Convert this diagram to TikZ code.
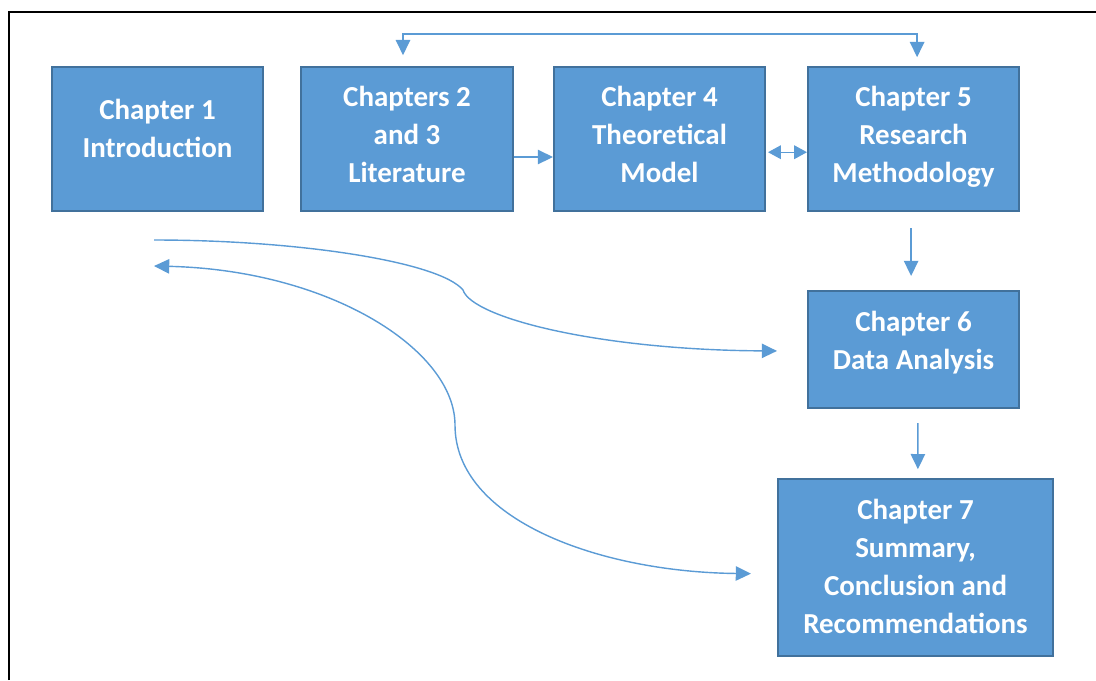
\documentclass[tikz,border=0pt]{standalone}
\usepackage{fontspec}
\setmainfont{Carlito}
\usepackage{xcolor}
\usepackage{tikz}
\usetikzlibrary{shapes,arrows.meta}
\definecolor{boxblue}{HTML}{5B9BD5}
\definecolor{boxedge}{HTML}{41719C}
\tikzstyle{block} = [rectangle, draw=boxedge, line width=1.4pt, fill=boxblue, text=white, text centered, align=center, font=\bfseries\fontsize{20.6pt}{27pt}\selectfont, minimum width=5.275cm, minimum height=3.6cm, inner sep=0pt, text depth=0.25cm]
\tikzstyle{line} = [draw=boxblue, line width=1pt, -{Triangle[length=0.38cm, width=0.36cm]}]
\tikzstyle{twoway} = [line, {Triangle[length=0.38cm, width=0.36cm]}-{Triangle[length=0.38cm, width=0.36cm]}]
\tikzstyle{frame} = [draw=black, line width=2pt]

\begin{document}
\begin{tikzpicture}[x=0.025cm, y=-0.025cm]
\useasboundingbox (0,0) rectangle (1096,680);
\draw [frame] (9,680) -- (9,12) -- (1096,12);
\node [block, text depth=0.55cm] (ch1) at (157.5,139) {Chapter 1\\Introduction};
\node [block] (ch23) at (407,139) {Chapters 2\\and 3\\Literature};
\node [block] (ch4) at (659.5,139) {Chapter 4\\Theoretical\\Model};
\node [block] (ch5) at (913.5,139) {Chapter 5\\Research\\Methodology};
\node [block, minimum height=2.925cm, text depth=0.45cm] (ch6) at (913.5,349.5) {Chapter 6\\Data Analysis};
\node [block, minimum width=6.875cm, minimum height=4.425cm, text depth=0.08cm] (ch7) at (915.5,567.5) {Chapter 7\\Summary,\\Conclusion and\\Recommendations};
\coordinate (ch1-out) at (154,240);
\coordinate (ch1-in) at (154,266);
\path [twoway, shorten <=0.27cm, shorten >=0.22cm] ([xshift=-0.1cm]ch23.north) -- ++(0,-32) -| ([xshift=0.09cm]ch5.north);
\path [line] ([yshift=-0.45cm]ch23.east) -- ([yshift=-0.45cm]ch4.west);
\path [twoway, {Triangle[length=0.32cm, width=0.34cm]}-{Triangle[length=0.32cm, width=0.34cm]}, shorten <=0.05cm] ([yshift=-0.33cm]ch4.east) -- ([yshift=-0.33cm]ch5.west);
\path [line, shorten <=0.4cm, shorten >=0.35cm] ([xshift=-0.06cm]ch5.south) -- ([xshift=-0.06cm]ch6.north);
\path [line, shorten <=0.35cm, shorten >=0.22cm] ([xshift=0.11cm]ch6.south) -- ([xshift=0.06cm]ch7.north);
\path [line, shorten >=0.75cm] (ch1-out) .. controls (300,240) and (440,262) .. (463,290) .. controls (472,318) and (600,350) .. ([yshift=-0.04cm]ch6.west);
\path [twoway, shorten >=0.65cm] (ch1-in) .. controls (330,270) and (455,350) .. (455,425) .. controls (455,520) and (600,572) .. ([yshift=-0.16cm]ch7.west);
\end{tikzpicture}
\end{document}
